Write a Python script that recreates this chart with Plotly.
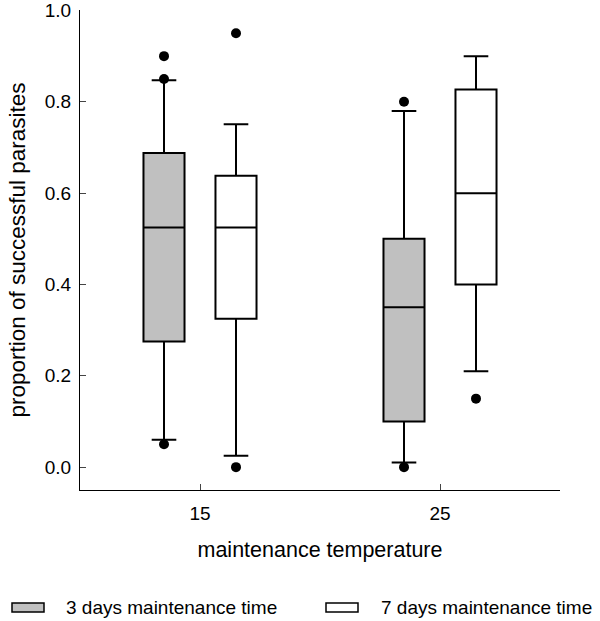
import plotly.graph_objects as go

# ---- data ----
categories = ["15", "25"]
series_names = ["3 days maintenance time", "7 days maintenance time"]

q1_3d = [0.275, 0.100]
median_3d = [0.525, 0.350]
q3_3d = [0.688, 0.500]
lower_3d = [0.060, 0.010]
upper_3d = [0.847, 0.780]
outliers_3d = [[0.90, 0.85, 0.05], [0.80, 0.00]]

q1_7d = [0.325, 0.400]
median_7d = [0.525, 0.600]
q3_7d = [0.638, 0.827]
lower_7d = [0.025, 0.210]
upper_7d = [0.751, 0.900]
outliers_7d = [[0.95, 0.00], [0.15]]

y_ticks = [0.0, 0.2, 0.4, 0.6, 0.8, 1.0]

# ---- styling / layout ----
FONT = "Liberation Sans, Arial, sans-serif"
GRAY = "rgb(192,192,192)"
fills = [GRAY, "white"]
offsets = [-0.15, 0.15]
BOX_W = 0.171

series = [
    (q1_3d, median_3d, q3_3d, lower_3d, upper_3d, outliers_3d),
    (q1_7d, median_7d, q3_7d, lower_7d, upper_7d, outliers_7d),
]

fig = go.Figure()
for s, (q1, med, q3, lo, hi, outs) in enumerate(series):
    xpos = [i + offsets[s] for i in range(len(categories))]
    fig.add_trace(go.Box(
        x=xpos, q1=q1, median=med, q3=q3, lowerfence=lo, upperfence=hi,
        width=BOX_W, whiskerwidth=0.6, fillcolor=fills[s],
        line=dict(color="black", width=2), boxpoints=False,
        name=series_names[s], showlegend=False,
    ))
    ox, oy = [], []
    for i, vals in enumerate(outs):
        for v in vals:
            ox.append(i + offsets[s])
            oy.append(v)
    fig.add_trace(go.Scatter(
        x=ox, y=oy, mode="markers",
        marker=dict(color="black", size=10, symbol="circle"),
        showlegend=False, hoverinfo="y",
    ))

# plot area in pixels: x 80..560, y 10..490
L, R, T, B = 80, 40, 10, 131
W, H = 600, 621
PW, PH = W - L - R, H - T - B

def px_x(px):
    return (px - L) / PW

def px_y(py):
    return (H - B - py) / PH

shapes = []
annotations = []
legend_items = [(12, 44, 64), (326, 358, 379)]
for s, (x0, x1, tx) in enumerate(legend_items):
    shapes.append(dict(
        type="rect", xref="paper", yref="paper",
        x0=px_x(x0), x1=px_x(x1), y0=px_y(612), y1=px_y(603),
        fillcolor=fills[s], line=dict(color="black", width=1.5),
    ))
    annotations.append(dict(
        text=series_names[s], xref="paper", yref="paper",
        x=px_x(tx), y=px_y(607.5), xanchor="left", yanchor="middle",
        showarrow=False, font=dict(family=FONT, size=19, color="black"),
    ))

fig.update_layout(
    width=W, height=H,
    margin=dict(l=L, r=R, t=T, b=B, pad=0, autoexpand=False),
    paper_bgcolor="white", plot_bgcolor="white",
    font=dict(family=FONT, color="black"),
    showlegend=False,
    shapes=shapes, annotations=annotations,
    xaxis=dict(
        range=[-0.5, 1.5], tickvals=list(range(len(categories))), ticktext=categories,
        showline=True, linecolor="black", linewidth=1,
        ticks="inside", ticklen=6, tickcolor="#444", tickwidth=1,
        showgrid=False, zeroline=False, ticklabelstandoff=6, automargin=False,
        tickfont=dict(family=FONT, size=19),
        title=dict(text="maintenance temperature", font=dict(family=FONT, size=21.5), standoff=19),
    ),
    yaxis=dict(
        range=[-0.05, 1.001], tickvals=y_ticks, tickformat=".1f",
        showline=True, linecolor="black", linewidth=1,
        ticks="inside", ticklen=6, tickcolor="#444", tickwidth=1,
        showgrid=False, zeroline=False, ticklabelstandoff=4, automargin=False,
        tickfont=dict(family=FONT, size=19),
        title=dict(text="proportion of successful parasites", font=dict(family=FONT, size=22.5), standoff=12),
    ),
)

fig.write_html(
    "out.html",
    config={"displayModeBar": False},
    post_script="document.body.style.margin='0';document.body.style.padding='0';",
)
